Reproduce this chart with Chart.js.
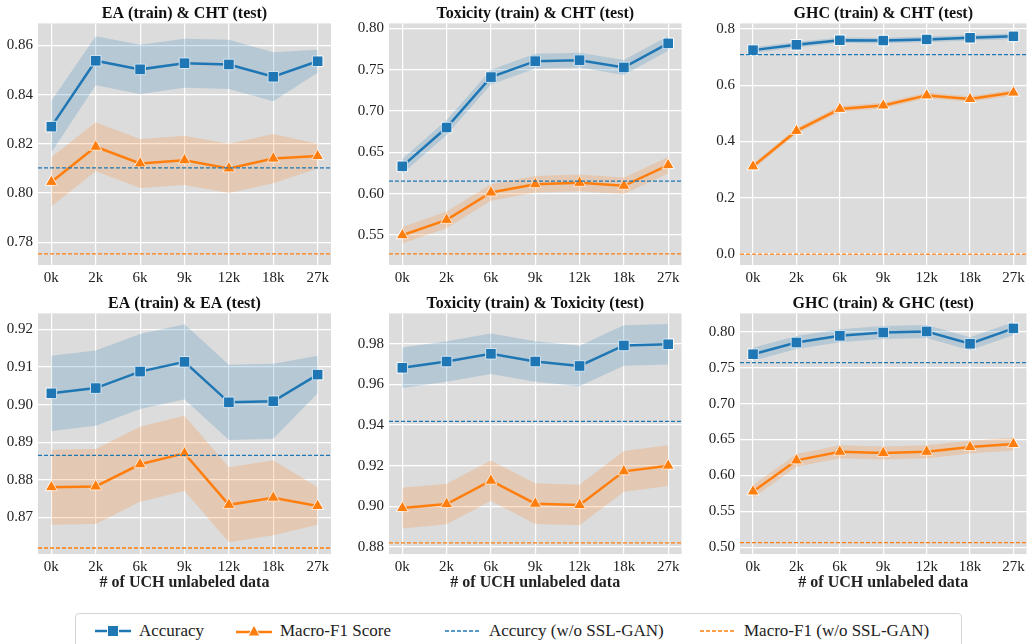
<!DOCTYPE html>
<html lang="en">
<head>
    <meta charset="UTF-8"/>
    <title>UCH unlabeled data</title>
    <script src="https://cdn.jsdelivr.net/npm/chart.js"></script>
    <style>
        html, body {
            margin: 0;
            padding: 0;
            background: #fff;
            width: 1035px;
            height: 644px;
            overflow: hidden;
            font-family: 'Liberation Serif', 'Times New Roman', 'DejaVu Serif', serif;
            color: #222;
        }
        .panel { position: absolute; }
        .legend-box {
            position: absolute;
            left: 75px;
            top: 613px;
            width: 887px;
            height: 40px;
            border: 1px solid #d4d4d4;
            border-radius: 4px;
            box-sizing: border-box;
            background: #fff;
        }
        .legend-item {
            position: absolute;
            top: 5px;
            height: 24px;
            display: flex;
            align-items: center;
            font-size: 17px;
            white-space: nowrap;
        }
        .legend-item svg { margin-right: 8px; }
    </style>
</head>
<body>
<div class="panel" style="left:0;top:0"><canvas id="p0" width="340" height="285"></canvas></div>
<div class="panel" style="left:345px;top:0"><canvas id="p1" width="345" height="285"></canvas></div>
<div class="panel" style="left:690px;top:0"><canvas id="p2" width="345" height="285"></canvas></div>
<div class="panel" style="left:0;top:290px"><canvas id="p3" width="340" height="302"></canvas></div>
<div class="panel" style="left:345px;top:290px"><canvas id="p4" width="345" height="302"></canvas></div>
<div class="panel" style="left:690px;top:290px"><canvas id="p5" width="345" height="302"></canvas></div>

<div class="legend-box">
    <div class="legend-item" style="left:19px">
        <svg width="36" height="14"><line x1="0" y1="7" x2="36" y2="7" stroke="#1f77b4" stroke-width="2.5"/><rect x="12.5" y="1.5" width="11" height="11" fill="#1f77b4" stroke="#fff" stroke-width="1"/></svg>Accuracy
    </div>
    <div class="legend-item" style="left:160px">
        <svg width="36" height="14"><line x1="0" y1="8" x2="36" y2="8" stroke="#ff7f0e" stroke-width="2.5"/><polygon points="18,1 24,12 12,12" fill="#ff7f0e" stroke="#fff" stroke-width="1"/></svg>Macro-F1 Score
    </div>
    <div class="legend-item" style="left:369px">
        <svg width="36" height="14"><line x1="0" y1="7" x2="36" y2="7" stroke="#1f77b4" stroke-width="1.3" stroke-dasharray="4,2"/></svg>Accurcy (w/o SSL-GAN)
    </div>
    <div class="legend-item" style="left:624px">
        <svg width="36" height="14"><line x1="0" y1="7" x2="36" y2="7" stroke="#ff7f0e" stroke-width="1.3" stroke-dasharray="4,2"/></svg>Macro-F1 (w/o SSL-GAN)
    </div>
</div>

<script>
    // x categories
    const xLabels = ['0k', '2k', '6k', '9k', '12k', '18k', '27k'];

    const panelTitles = [
        'EA (train) & CHT (test)',
        'Toxicity (train) & CHT (test)',
        'GHC (train) & CHT (test)',
        'EA (train) & EA (test)',
        'Toxicity (train) & Toxicity (test)',
        'GHC (train) & GHC (test)'
    ];

    // accuracy per panel
    const accEaCht   = [0.827, 0.8538, 0.8503, 0.8528, 0.8523, 0.8473, 0.8536];
    const accToxCht  = [0.633, 0.680, 0.741, 0.7603, 0.7615, 0.7527, 0.7818];
    const accGhcCht  = [0.725, 0.744, 0.760, 0.759, 0.763, 0.769, 0.774];
    const accEaEa    = [0.903, 0.9044, 0.9088, 0.9114, 0.9006, 0.9009, 0.908];
    const accToxTox  = [0.9682, 0.9713, 0.9751, 0.9713, 0.9691, 0.9792, 0.9798];
    const accGhcGhc  = [0.7688, 0.7851, 0.7944, 0.799, 0.8005, 0.7833, 0.8047];

    // macro-F1 per panel
    const f1EaCht    = [0.8045, 0.8188, 0.812, 0.8133, 0.810, 0.814, 0.815];
    const f1ToxCht   = [0.5496, 0.5682, 0.6013, 0.6114, 0.613, 0.6095, 0.6344];
    const f1GhcCht   = [0.3116, 0.4377, 0.516, 0.528, 0.564, 0.551, 0.574];
    const f1EaEa     = [0.878, 0.8782, 0.8841, 0.887, 0.8733, 0.8752, 0.873];
    const f1ToxTox   = [0.8991, 0.9011, 0.9126, 0.9013, 0.9006, 0.9172, 0.920];
    const f1GhcGhc   = [0.5777, 0.621, 0.633, 0.6312, 0.633, 0.6395, 0.6437];

    // band half widths (std), read per point
    const accSdEaCht  = [0.0105, 0.010, 0.010, 0.010, 0.010, 0.010, 0.0047];
    const accSdToxCht = [0.009, 0.009, 0.009, 0.009, 0.009, 0.009, 0.009];
    const accSdGhcCht = [0.010, 0.010, 0.010, 0.010, 0.010, 0.010, 0.010];
    const accSdEaEa   = [0.010, 0.010, 0.010, 0.010, 0.010, 0.010, 0.005];
    const accSdToxTox = [0.010, 0.010, 0.010, 0.010, 0.010, 0.010, 0.010];
    const accSdGhcGhc = [0.009, 0.009, 0.009, 0.009, 0.009, 0.009, 0.009];

    const f1SdEaCht   = [0.010, 0.010, 0.010, 0.010, 0.010, 0.010, 0.005];
    const f1SdToxCht  = [0.010, 0.010, 0.010, 0.010, 0.010, 0.010, 0.010];
    const f1SdGhcCht  = [0.010, 0.010, 0.010, 0.010, 0.010, 0.010, 0.010];
    const f1SdEaEa    = [0.010, 0.010, 0.010, 0.010, 0.010, 0.010, 0.005];
    const f1SdToxTox  = [0.010, 0.010, 0.010, 0.010, 0.010, 0.010, 0.010];
    const f1SdGhcGhc  = [0.009, 0.009, 0.009, 0.009, 0.009, 0.009, 0.009];

    // w/o SSL-GAN baselines per panel
    const accBase    = [0.8102, 0.6152, 0.709, 0.8865, 0.9418, 0.7572];
    const f1Base     = [0.7752, 0.527, 0.0, 0.8618, 0.882, 0.5065];

    // y axis ranges
    const yMin   = [0.7707, 0.5136, -0.039, 0.8602, 0.8765, 0.4907];
    const yMax   = [0.869, 0.806, 0.82, 0.9243, 0.995, 0.8256];
    const yStep  = [0.02, 0.05, 0.2, 0.01, 0.02, 0.05];
    const yDigits = [2, 2, 1, 2, 2, 2];

    const accSeries = [accEaCht, accToxCht, accGhcCht, accEaEa, accToxTox, accGhcGhc];
    const f1Series  = [f1EaCht, f1ToxCht, f1GhcCht, f1EaEa, f1ToxTox, f1GhcGhc];
    const accSdSeries = [accSdEaCht, accSdToxCht, accSdGhcCht, accSdEaEa, accSdToxTox, accSdGhcGhc];
    const f1SdSeries  = [f1SdEaCht, f1SdToxCht, f1SdGhcCht, f1SdEaEa, f1SdToxTox, f1SdGhcGhc];

    const BLUE = '#1f77b4';
    const ORANGE = '#ff7f0e';
    const FONT = "'Liberation Serif', 'Times New Roman', serif";

    // plot area geometry per canvas
    const yAxisWidth = [38, 44, 50, 38, 44, 50];
    const rightPad   = [9, 8, 2, 9, 8, 2];

    const bgPlugin = {
        id: 'plotBg',
        beforeDraw(chart) {
            const a = chart.chartArea;
            const c = chart.ctx;
            c.save();
            c.fillStyle = '#dcdcdc';
            c.fillRect(a.left, a.top, a.right - a.left, a.bottom - a.top);
            c.restore();
        }
    };

    const baselinePlugin = {
        id: 'baselines',
        afterDatasetsDraw(chart, args, opts) {
            const a = chart.chartArea;
            const c = chart.ctx;
            const ys = chart.scales.y;
            c.save();
            c.lineWidth = 1.3;
            c.setLineDash([4, 2]);
            opts.lines.forEach(l => {
                const py = ys.getPixelForValue(l.value);
                c.strokeStyle = l.color;
                c.beginPath();
                c.moveTo(a.left, py);
                c.lineTo(a.right, py);
                c.stroke();
            });
            c.restore();
        }
    };

    // sign = +1 upper edge, -1 lower edge, 0 the line itself
    function pts(values, sd, sign) {
        return values.map((v, i) => ({ x: i, y: v + sign * (sd ? sd[i] : 0) }));
    }

    function makePanel(i) {
        const bottomRow = i >= 3;
        const acc = accSeries[i];
        const f1 = f1Series[i];
        const accSd = accSdSeries[i];
        const f1Sd = f1SdSeries[i];
        const ctx = document.getElementById('p' + i).getContext('2d');

        new Chart(ctx, {
            type: 'line',
            data: {
                datasets: [
                    { data: pts(acc, accSd, 1), borderWidth: 0, pointRadius: 0, fill: false },
                    { data: pts(acc, accSd, -1), borderWidth: 0, pointRadius: 0,
                      fill: '-1', backgroundColor: 'rgba(31,119,180,0.2)' },
                    { data: pts(f1, f1Sd, 1), borderWidth: 0, pointRadius: 0, fill: false },
                    { data: pts(f1, f1Sd, -1), borderWidth: 0, pointRadius: 0,
                      fill: '-1', backgroundColor: 'rgba(255,127,14,0.2)' },
                    { data: pts(acc, null, 0), borderColor: BLUE, backgroundColor: BLUE, borderWidth: 2.5,
                      pointStyle: 'rect', pointRadius: 7.5, pointBorderColor: '#fff',
                      pointBorderWidth: 1, pointBackgroundColor: BLUE, fill: false },
                    { data: pts(f1, null, 0), borderColor: ORANGE, backgroundColor: ORANGE, borderWidth: 2.5,
                      pointStyle: 'triangle', pointRadius: 7, pointBorderColor: '#fff',
                      pointBorderWidth: 1, pointBackgroundColor: ORANGE, fill: false }
                ]
            },
            options: {
                responsive: false,
                animation: false,
                tension: 0,
                layout: { padding: { left: 0, right: rightPad[i], top: 0, bottom: 0 } },
                scales: {
                    x: {
                        type: 'linear',
                        min: -0.3,
                        max: 6.3,
                        afterFit: s => { s.height = bottomRow ? 38 : 20; },
                        border: { display: false },
                        grid: { color: '#fff', lineWidth: 1.2, drawTicks: false },
                        ticks: {
                            stepSize: 1,
                            includeBounds: false,
                            padding: 4,
                            color: '#222',
                            font: { family: FONT, size: 15 },
                            callback: v => xLabels[Math.round(v)]
                        },
                        title: {
                            display: bottomRow,
                            text: '# of UCH unlabeled data',
                            color: '#222',
                            padding: 0,
                            font: { family: FONT, size: 16, weight: 'bold' }
                        }
                    },
                    y: {
                        min: yMin[i],
                        max: yMax[i],
                        afterFit: s => { s.width = yAxisWidth[i]; },
                        border: { display: false },
                        grid: { color: '#fff', lineWidth: 1.2, drawTicks: false },
                        ticks: {
                            stepSize: yStep[i],
                            includeBounds: false,
                            padding: 5,
                            color: '#222',
                            font: { family: FONT, size: 15 },
                            callback: v => Number(v).toFixed(yDigits[i])
                        }
                    }
                },
                plugins: {
                    legend: { display: false },
                    tooltip: { enabled: false },
                    title: {
                        display: true,
                        text: panelTitles[i],
                        fullSize: false,
                        color: '#111',
                        padding: { top: 5, bottom: 0 },
                        font: { family: FONT, size: 16, weight: 'bold', lineHeight: 1.15 }
                    },
                    baselines: {
                        lines: [
                            { value: accBase[i], color: BLUE },
                            { value: f1Base[i], color: ORANGE }
                        ]
                    }
                }
            },
            plugins: [bgPlugin, baselinePlugin]
        });
    }

    for (let i = 0; i < 6; i++) makePanel(i);
</script>
</body>
</html>
